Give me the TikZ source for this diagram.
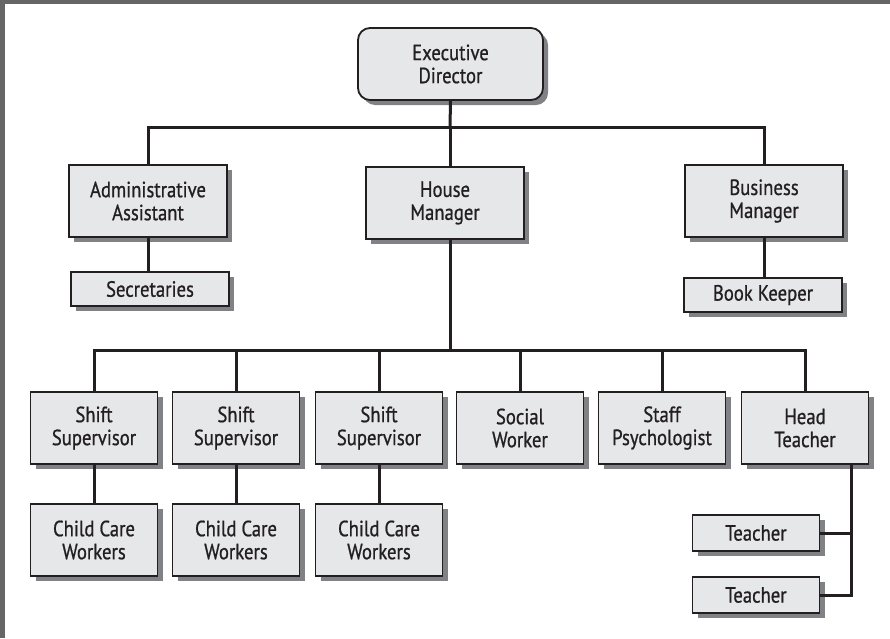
\documentclass[tikz,border=0pt]{standalone}
\usepackage{fontspec}
\setmainfont{PT Sans}[FakeStretch=0.85,FakeBold=0.8]
\usetikzlibrary{shadows}
\definecolor{boxfill}{HTML}{E6E7E8}
\definecolor{ink}{HTML}{231F20}
\definecolor{shade}{HTML}{808285}
\definecolor{framegray}{HTML}{666666}
\begin{document}
\begin{tikzpicture}[x=1pt,y=-1pt,
  base/.style={draw=ink, line width=1.8pt, fill=boxfill, text=ink, inner sep=0pt,
    align=center, font=\fontsize{22}{23}\selectfont,
    drop shadow={shadow xshift=5pt, shadow yshift=-5pt, fill=shade, opacity=1}},
  bigbox/.style={base, minimum width=158pt, minimum height=72pt},
  midbox/.style={base, minimum width=127pt, minimum height=72pt},
  smallbox/.style={base, minimum width=158pt, minimum height=34pt},
  tbox/.style={base, minimum width=127pt, minimum height=36pt},
  topbox/.style={base, rounded corners=12pt, minimum width=185pt, minimum height=72pt},
  conn/.style={draw=ink, line width=3pt}]
\useasboundingbox (0,0) rectangle (890,638);
\fill[framegray] (0,0) rectangle (890,4);
\fill[framegray] (0,0) rectangle (5,638);

% nodes
\node[topbox] (ed) at (450.5,64) {Executive\\Director};
\node[bigbox] (aa) at (148,201) {Administrative\\Assistant};
\node[bigbox] (hm) at (445,203) {House\\Manager};
\node[bigbox] (bm) at (764,201) {Business\\Manager};
\node[smallbox] (sec) at (150,289) {Secretaries};
\node[smallbox] (bk) at (763,295) {Book Keeper};

\node[midbox] (ss1) at (94,428) {Shift\\Supervisor};
\node[midbox] (ss2) at (236,428) {Shift\\Supervisor};
\node[midbox] (ss3) at (379,428) {Shift\\Supervisor};
\node[midbox] (sw) at (520,428) {Social\\Worker};
\node[midbox] (sp) at (662,428) {Staff\\Psychologist};
\node[midbox] (ht) at (805,428) {Head\\Teacher};

\node[midbox] (cc1) at (94,540) {Child Care\\Workers};
\node[midbox] (cc2) at (236,540) {Child Care\\Workers};
\node[midbox] (cc3) at (379,540) {Child Care\\Workers};

\node[tbox] (t1) at (756,533) {Teacher};
\node[tbox] (t2) at (756,595) {Teacher};

% bus coordinates
\coordinate (bus1) at (450,127);
\coordinate (bus2) at (450,350);
\coordinate (htb) at (851,464);

% connectors
\draw[conn] (ed.south) -- (bus1);
\draw[conn] (aa.north) |- (bus1) -| (bm.north);
\draw[conn] (bus1) -- (bus1 |- hm.north);
\draw[conn] (bus1 |- hm.south) -- (bus2);
\draw[conn] (ss1.north) |- (bus2) -| (ht.north);
\draw[conn] (ss2.north) -- (ss2.north |- bus2);
\draw[conn] (ss3.north) -- (ss3.north |- bus2);
\draw[conn] (sw.north) -- (sw.north |- bus2);
\draw[conn] (sp.north) -- (sp.north |- bus2);
\draw[conn] (aa.south) -- (sec.north -| aa.south);
\draw[conn] (bm.south) -- (bk.north -| bm.south);
\draw[conn] (ss1.south) -- (cc1.north);
\draw[conn] (ss2.south) -- (cc2.north);
\draw[conn] (ss3.south) -- (cc3.north);
\draw[conn] (htb) |- (t2.east);
\draw[conn] (t1.east) -- (t1.east -| htb);
\end{tikzpicture}
\end{document}
